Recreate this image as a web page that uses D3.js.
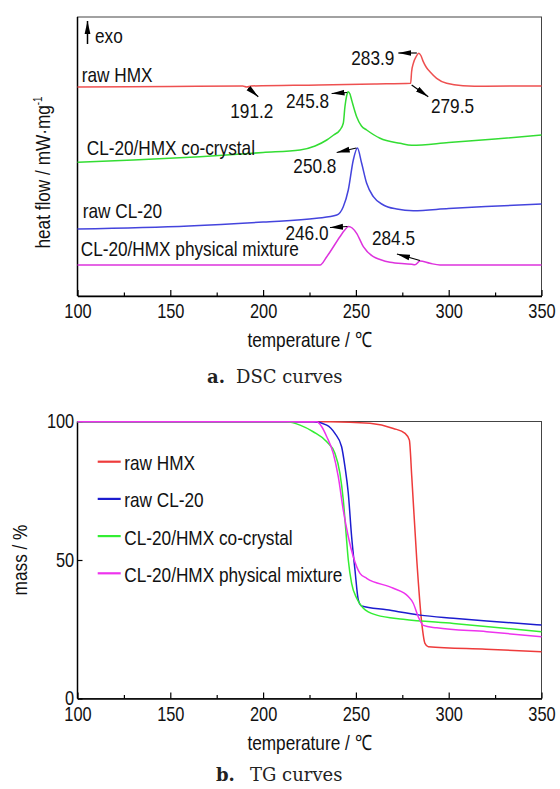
<!DOCTYPE html>
<html>
<head>
<meta charset="utf-8">
<script src="https://d3js.org/d3.v7.min.js"></script>
<style>
  body { margin: 0; background: #fff; }
  svg { display: block; }
  .axis .domain { stroke: #000; stroke-width: 1.5; }
  .axis line { stroke: #000; stroke-width: 1.2; }
</style>
</head>
<body>
<svg width="560" height="789" id="chart"></svg>
<script>
// ---- DSC curves: [temperature (C), heat flow (arbitrary units, offset per curve)]
const dscRawHMX = [[100,20.9],[150,20.95],[189,21.0],[191.2,20.9],[193.5,21.0],[230,21.1],[260,21.2],[279.5,21.27],
  [280,22.4],[281,23.3],[282.5,23.95],[283.9,24.27],[285,24.05],[286.3,23.44],[288,22.85],[289.9,22.43],
  [293.5,21.77],[298.9,21.27],[307.7,21.03],[320,20.98],[350,21.0]];
const dscCoCrystal = [[100,13.37],[130,13.6],[166,13.93],[200,14.35],[219.9,14.6],[228,15.0],[234.3,15.6],[238,16.1],
  [241.4,16.6],[243.2,17.27],[244.1,18.93],[245,20.0],[245.8,20.43],[246.8,20.2],[247.7,19.6],[250.4,17.93],
  [253,17.0],[255.8,16.6],[263,15.77],[273.8,15.27],[280.1,15.07],[300,15.35],[325,15.7],[350,16.1]];
const dscRawCL20 = [[100,6.7],[160,7.0],[200,7.4],[228.8,7.77],[239.7,8.1],[243.2,8.93],[245.9,10.6],[248.6,13.6],
  [250.8,14.8],[253.1,13.27],[255.8,11.27],[259.4,9.93],[264.8,9.1],[272,8.7],[280.9,8.53],[300,8.75],[320,8.95],[350,9.2]];
const dscMixture = [[100,3.1],[200,3.1],[230.7,3.1],[234.3,3.93],[241.4,5.93],[244,6.6],[246.0,6.95],[248,6.8],
  [250.4,6.27],[254,4.93],[259.4,3.93],[263,3.65],[268.4,3.37],[280.1,3.17],[281.8,3.12],[284.5,3.5],
  [289.9,3.27],[295.3,3.1],[350,3.1]];

const dscNames = ["raw HMX", "CL-20/HMX co-crystal", "raw CL-20", "CL-20/HMX physical mixture"];

// peak annotations
const peakLabels = ["191.2", "245.8", "283.9", "279.5", "250.8", "246.0", "284.5"];
const peakTemps = [191.2, 245.8, 283.9, 279.5, 250.8, 246.0, 284.5];
const peakFlows = [20.8, 20.4, 24.3, 21.1, 14.8, 6.95, 3.5];

// ---- TG curves: [temperature (C), mass (%)]
const tgRawHMX = [[100,99.9],[200,99.9],[236,99.9],[257.6,99.35],[270.2,97.5],[276.5,95.7],[278.8,93.3],[280.1,80.1],
  [282.8,50],[285.5,27.1],[287.2,19.9],[289,18.7],[320,17.8],[350,16.9]];
const tgRawCL20 = [[100,99.9],[227,99.9],[234.3,98.7],[238.7,95.7],[242.3,90.9],[244.1,83.7],[245.9,74.1],[247.7,58.4],
  [249.5,46.4],[251.3,35.6],[253.1,33.4],[266.6,32.0],[284.5,30.1],[302.5,29.0],[320.5,28.0],[350,26.5]];
const tgCoCrystal = [[100,99.9],[212.7,99.9],[219.9,98.7],[227,96.3],[234.3,92.7],[238.7,88.5],[241.4,81.3],[243.2,71.7],
  [244.7,59.6],[245.9,50.0],[247.7,41.6],[250.4,36.2],[254,32.6],[261.2,30.1],[275.5,28.6],[302.5,27.1],[350,24.1]];
const tgMixture = [[100,99.9],[228.9,99.9],[231.6,98.1],[234.3,94.5],[237.8,88.5],[240.5,80.1],[243.2,68],[245.9,58.4],
  [248.6,51.2],[252.2,45.2],[255.8,43.4],[270.2,39.8],[278.2,36.8],[280.9,34.4],[283.6,29.5],[286.3,26.4],
  [293.5,25.5],[320.5,24.1],[350,22.3]];

const tgNames = ["raw HMX", "raw CL-20", "CL-20/HMX co-crystal", "CL-20/HMX physical mixture"];

const xTicks = [100, 150, 200, 250, 300, 350];
const xMinorTicks = [125, 175, 225, 275, 325];
const tgYTicks = [0, 50, 100];

// ---- layout
const svg = d3.select("#chart");
const FONT = "'Liberation Sans', Arial, sans-serif";
const SX = 0.82; // narrow face
const left = 77.5, right = 541.5;
const dscTop = 17, dscBottom = 296, tgTop = 421.5, tgBottom = 698.5;

const dscColors = ["#ee5050", "#33dd33", "#4444dd", "#dd33dd"];
const tgColors = ["#ee3b3b", "#1c1ccf", "#33ee33", "#ee33ee"];

const x1 = d3.scaleLinear().domain([100, 350]).range([left, right]);
const y1 = d3.scaleLinear().domain([0, 27.9]).range([dscBottom, dscTop]);
const x2 = d3.scaleLinear().domain([100, 350]).range([left, right]);
const y2 = d3.scaleLinear().domain([0, 100]).range([tgBottom, tgTop]);

function label(x, y, s, size, anchor, rot) {
  return svg.append("text")
    .attr("transform", `translate(${x},${y})` + (rot ? ` rotate(${rot})` : "") + ` scale(${SX},1)`)
    .attr("font-family", FONT)
    .attr("font-size", size)
    .attr("text-anchor", anchor || "start")
    .attr("fill", "#111")
    .text(s);
}

const defs = svg.append("defs");
defs.append("marker").attr("id", "head")
  .attr("viewBox", "0 0 13 7").attr("refX", 13).attr("refY", 3.5)
  .attr("markerWidth", 13).attr("markerHeight", 7)
  .attr("markerUnits", "userSpaceOnUse").attr("orient", "auto")
  .append("path").attr("d", "M0,0.6 L13,3.5 L0,6.4 Z").attr("fill", "#000");

function frame(x, y, top, bottom) {
  svg.append("rect")
    .attr("x", left).attr("y", top)
    .attr("width", right - left).attr("height", bottom - top)
    .attr("fill", "none").attr("stroke", "#444").attr("stroke-width", 1);

  const gx = svg.append("g").attr("class", "axis")
    .attr("transform", `translate(0,${bottom})`)
    .call(d3.axisBottom(x).tickValues(xTicks).tickSize(-6).tickSizeOuter(0).tickPadding(8).tickFormat(d3.format("d")));
  gx.selectAll("text").attr("font-family", FONT).attr("font-size", 20).attr("fill", "#111")
    .attr("transform", `scale(${SX},1)`);

  svg.append("g").attr("class", "axis")
    .attr("transform", `translate(0,${bottom})`)
    .call(d3.axisBottom(x).tickValues(xMinorTicks).tickSize(-3.5).tickSizeOuter(0).tickFormat(""))
    .select(".domain").remove();

  svg.append("line").attr("x1", left).attr("x2", left).attr("y1", top).attr("y2", bottom)
    .attr("stroke", "#000").attr("stroke-width", 1.5);

  label((left + right) / 2, bottom + 51, "temperature / \u2103", 21, "middle");
}

// ================= DSC panel =================
frame(x1, y1, dscTop, dscBottom);

const line1 = d3.line().x(d => x1(d[0])).y(d => y1(d[1])).curve(d3.curveMonotoneX);
[dscRawHMX, dscCoCrystal, dscRawCL20, dscMixture].forEach((s, i) => {
  svg.append("path").datum(s).attr("d", line1)
    .attr("fill", "none").attr("stroke", dscColors[i]).attr("stroke-width", 1.5);
});

// curve names
const dscLabelPos = [[81.7, 81.7], [86.7, 155], [82.7, 218.3], [80.7, 256]];
dscNames.forEach((n, i) => label(dscLabelPos[i][0], dscLabelPos[i][1], n, 21, "start"));

// exo arrow
svg.append("line").attr("x1", 87.5).attr("x2", 87.5).attr("y1", 44).attr("y2", 21)
  .attr("stroke", "#000").attr("stroke-width", 1.5).attr("marker-end", "url(#head)");
label(95, 43, "exo", 21, "start");

// arrow start offset, arrow head offset, text offset, anchor (relative to peak)
const peakLayout = [
  [[1.5, 0], [11.5, 8.7], [5, 30], "middle"],
  [[-1, 0.5], [-16.5, 1.5], [-19, 16], "end"],
  [[-2, 0], [-20.5, 0], [-24.5, 12], "end"],
  [[1, 0], [17.6, 11.7], [20.3, 28.3], "start"],
  [[-1, 0], [-20.7, 4.5], [-21, 25], "end"],
  [[-1, 0], [-18.5, 1], [-20, 13.5], "end"],
  [[0, -0.5], [-23, -7], [-48, -16], "start"]
];
peakLabels.forEach((t, i) => {
  const px = x1(peakTemps[i]), py = y1(peakFlows[i]);
  const L = peakLayout[i];
  svg.append("line")
    .attr("x1", px + L[0][0]).attr("y1", py + L[0][1])
    .attr("x2", px + L[1][0]).attr("y2", py + L[1][1])
    .attr("stroke", "#000").attr("stroke-width", 1.2).attr("marker-end", "url(#head)");
  label(px + L[2][0], py + L[2][1], t, 21, L[3]);
});

// y title
const yt1 = label(50, (dscTop + dscBottom) / 2 + 16, "heat flow / mW\u00B7mg", 21, "middle", -90);
yt1.append("tspan").attr("dy", -8).attr("font-size", 12).text("-1");

svg.append("text").attr("x", 207).attr("y", 383)
  .attr("font-family", "'DejaVu Serif', serif").attr("font-size", 18).attr("font-weight", "bold")
  .attr("fill", "#222").text("a.");
svg.append("text").attr("x", 236).attr("y", 383)
  .attr("font-family", "'DejaVu Serif', serif").attr("font-size", 18)
  .attr("fill", "#222").text("DSC curves");

// ================= TG panel =================
frame(x2, y2, tgTop, tgBottom);

const gy = svg.append("g").attr("class", "axis")
  .attr("transform", `translate(${left},0)`)
  .call(d3.axisLeft(y2).tickValues(tgYTicks).tickSize(-5).tickSizeOuter(0).tickPadding(4).tickFormat(d3.format("d")));
gy.select(".domain").remove();
gy.selectAll("text").attr("font-family", FONT).attr("font-size", 20).attr("fill", "#111")
  .attr("transform", `scale(${SX},1)`);

const line2 = d3.line().x(d => x2(d[0])).y(d => y2(d[1])).curve(d3.curveMonotoneX);
[tgRawHMX, tgRawCL20, tgCoCrystal, tgMixture].forEach((s, i) => {
  svg.append("path").datum(s).attr("d", line2)
    .attr("fill", "none").attr("stroke", tgColors[i]).attr("stroke-width", 1.5);
});

// legend
tgNames.forEach((n, i) => {
  const ly = 461.7 + i * 37.2;
  svg.append("line").attr("x1", 97.7).attr("x2", 120.7).attr("y1", ly).attr("y2", ly)
    .attr("stroke", tgColors[i]).attr("stroke-width", 2.2);
  label(124.3, ly + 8.5, n, 21, "start");
});

label(27, (tgTop + tgBottom) / 2, "mass / %", 21, "middle", -90);

svg.append("text").attr("x", 216).attr("y", 781)
  .attr("font-family", "'DejaVu Serif', serif").attr("font-size", 18).attr("font-weight", "bold")
  .attr("fill", "#222").text("b.");
svg.append("text").attr("x", 250).attr("y", 781)
  .attr("font-family", "'DejaVu Serif', serif").attr("font-size", 18)
  .attr("fill", "#222").text("TG curves");
</script>
</body>
</html>
